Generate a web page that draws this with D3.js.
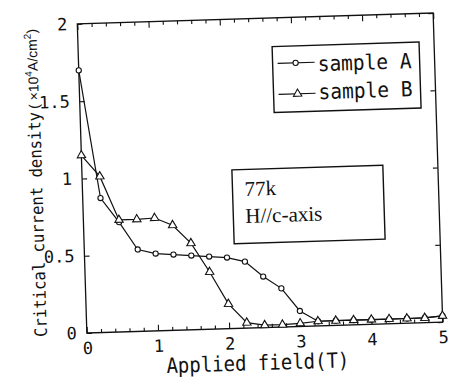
<!DOCTYPE html>
<html>
<head>
<meta charset="utf-8">
<script src="https://cdn.jsdelivr.net/npm/d3@7"></script>
<style>
  html, body { margin: 0; padding: 0; background: #fff; }
  svg { display: block; }
</style>
</head>
<body>
<svg id="chart" width="459" height="380"></svg>
<script>
// ---- data ----
const fieldT = [0, 0.25, 0.5, 0.75, 1, 1.25, 1.5, 1.75, 2, 2.25, 2.5, 2.75, 3, 3.25, 3.5, 3.75, 4, 4.25, 4.5, 4.75, 5];
const sampleA = [1.70, 0.87, 0.71, 0.53, 0.50, 0.49, 0.48, 0.47, 0.46, 0.43, 0.33, 0.25, 0.10, 0.03, 0.03, 0.03, 0.03, 0.03, 0.03, 0.03, 0.04];
const sampleB = [1.15, 1.01, 0.725, 0.725, 0.73, 0.68, 0.56, 0.37, 0.16, 0.035, 0.015, 0.015, 0.02, 0.03, 0.03, 0.03, 0.03, 0.03, 0.03, 0.03, 0.04];
const seriesNames = ["sample A", "sample B"];
const xTickValues = [0, 1, 2, 3, 4, 5];
const xTickLabels = ["0", "1", "2", "3", "4", "5"];
const xMinorTicks = [0.2, 0.4, 0.6, 0.8, 1.2, 1.4, 1.6, 1.8, 2.2, 2.4, 2.6, 2.8, 3.2, 3.4, 3.6, 3.8, 4.2, 4.4, 4.6, 4.8];
const yTickValues = [0, 0.5, 1, 1.5, 2];
const yTickLabels = ["0", "0.5", "1", "1.5", "2"];
const annotationLines = ["77k", "H//c-axis"];

// ---- layout ----
const ink = "#111";
const plot = { left: 82, right: 438, top: 18.4, bottom: 327.6 };
const svg = d3.select("#chart");
const g = svg.append("g").attr("transform", "rotate(-1.77, 260, 173)");

const x = d3.scaleLinear().domain([0, 5]).range([plot.left, plot.right]);
const y = d3.scaleLinear().domain([0, 2]).range([plot.bottom, plot.top]);

const monoFont = "'DejaVu Sans Mono', 'Liberation Mono', monospace";

// frame
g.append("rect")
  .attr("x", plot.left).attr("y", plot.top)
  .attr("width", plot.right - plot.left).attr("height", plot.bottom - plot.top)
  .attr("fill", "none").attr("stroke", ink).attr("stroke-width", 1.3);

function styleAxis(sel) {
  sel.select(".domain").remove();
  sel.selectAll(".tick line").attr("stroke", ink).attr("stroke-width", 1.1);
  sel.selectAll(".tick text").attr("fill", ink)
    .attr("font-family", monoFont).attr("font-size", 17);
}

// bottom axis (major with labels)
const xAxisG = g.append("g").attr("transform", `translate(0,${plot.bottom})`)
  .call(d3.axisBottom(x).tickValues(xTickValues)
    .tickFormat((d, i) => xTickLabels[i])
    .tickSizeInner(-6).tickSizeOuter(0).tickPadding(9));
styleAxis(xAxisG);
// bottom minor
const xMinorG = g.append("g").attr("transform", `translate(0,${plot.bottom})`)
  .call(d3.axisBottom(x).tickValues(xMinorTicks).tickFormat("").tickSizeInner(-3.5).tickSizeOuter(0));
styleAxis(xMinorG);
// top major + minor
const xTopG = g.append("g").attr("transform", `translate(0,${plot.top})`)
  .call(d3.axisTop(x).tickValues(xTickValues).tickFormat("").tickSizeInner(-6).tickSizeOuter(0));
styleAxis(xTopG);
const xTopMinorG = g.append("g").attr("transform", `translate(0,${plot.top})`)
  .call(d3.axisTop(x).tickValues(xMinorTicks).tickFormat("").tickSizeInner(-3.5).tickSizeOuter(0));
styleAxis(xTopMinorG);

// left axis
const yAxisG = g.append("g").attr("transform", `translate(${plot.left},0)`)
  .call(d3.axisLeft(y).tickValues(yTickValues)
    .tickFormat((d, i) => yTickLabels[i])
    .tickSizeInner(-5).tickSizeOuter(0).tickPadding(10));
styleAxis(yAxisG);
// right axis
const yRightG = g.append("g").attr("transform", `translate(${plot.right},0)`)
  .call(d3.axisRight(y).tickValues(yTickValues).tickFormat("").tickSizeInner(-5).tickSizeOuter(0));
styleAxis(yRightG);

// axis titles
g.append("text")
  .attr("x", 252).attr("y", 370)
  .attr("text-anchor", "middle")
  .attr("font-family", monoFont).attr("font-size", 21)
  .attr("textLength", 183).attr("lengthAdjust", "spacingAndGlyphs")
  .attr("fill", ink)
  .text("Applied field(T)");

const yTitle = g.append("g").attr("transform", "translate(42,330) rotate(-90)");
yTitle.append("text")
  .attr("x", 0).attr("y", 0)
  .attr("font-family", monoFont).attr("font-size", 17)
  .attr("textLength", 225).attr("lengthAdjust", "spacingAndGlyphs")
  .attr("fill", ink)
  .text("Critical current density");
const unit = yTitle.append("text")
  .attr("x", 228).attr("y", -1)
  .attr("font-family", "'Liberation Sans', Arial, sans-serif").attr("font-size", 14)
  .attr("fill", ink);
unit.append("tspan").text("( ×10");
unit.append("tspan").attr("font-size", 10).attr("dy", -6).text("4");
unit.append("tspan").attr("dy", 6).text("A/cm");
unit.append("tspan").attr("font-size", 10).attr("dy", -6).text("2");
unit.append("tspan").attr("dy", 6).text(")");

// ---- series ----
const line = d3.line().x((d, i) => x(fieldT[i])).y(d => y(d));
const triangle = d3.symbol().type(d3.symbolTriangle).size(30);

g.append("path").datum(sampleA).attr("d", line)
  .attr("fill", "none").attr("stroke", ink).attr("stroke-width", 1.2);
g.append("path").datum(sampleB).attr("d", line)
  .attr("fill", "none").attr("stroke", ink).attr("stroke-width", 1.2);

g.append("g").selectAll("circle").data(sampleA).join("circle")
  .attr("cx", (d, i) => x(fieldT[i])).attr("cy", d => y(d)).attr("r", 2.6)
  .attr("fill", "#fff").attr("stroke", ink).attr("stroke-width", 1.1);
g.append("g").selectAll("path").data(sampleB).join("path")
  .attr("d", triangle)
  .attr("transform", (d, i) => `translate(${x(fieldT[i])},${y(d)})`)
  .attr("fill", "#fff").attr("stroke", ink).attr("stroke-width", 1.1);

// ---- legend ----
const leg = g.append("g");
leg.append("rect").attr("x", 276).attr("y", 47).attr("width", 147).attr("height", 66)
  .attr("fill", "#fff").attr("stroke", ink).attr("stroke-width", 1.4);
const legRows = [
  { name: seriesNames[0], cy: 64, base: 73, sym: "circle" },
  { name: seriesNames[1], cy: 95, base: 101, sym: "triangle" }
];
legRows.forEach(r => {
  leg.append("line").attr("x1", 281).attr("x2", 318).attr("y1", r.cy).attr("y2", r.cy)
    .attr("stroke", ink).attr("stroke-width", 1.1);
  if (r.sym === "circle") {
    leg.append("circle").attr("cx", 299).attr("cy", r.cy).attr("r", 2.6)
      .attr("fill", "#fff").attr("stroke", ink).attr("stroke-width", 1.1);
  } else {
    leg.append("path").attr("d", triangle).attr("transform", `translate(300,${r.cy})`)
      .attr("fill", "#fff").attr("stroke", ink).attr("stroke-width", 1.1);
  }
  leg.append("text").attr("x", 321).attr("y", r.base)
    .attr("font-family", monoFont).attr("font-size", 21)
    .attr("textLength", 94).attr("lengthAdjust", "spacingAndGlyphs")
    .attr("fill", ink).text(r.name);
});

// ---- annotation box ----
const ann = g.append("g");
ann.append("rect").attr("x", 232).attr("y", 169).attr("width", 151).attr("height", 74)
  .attr("fill", "#fff").attr("stroke", ink).attr("stroke-width", 1.4);
ann.selectAll("text").data(annotationLines).join("text")
  .attr("x", 244).attr("y", (d, i) => 195.5 + i * 27)
  .attr("font-family", "'Liberation Serif', 'Times New Roman', serif").attr("font-size", 21)
  .attr("fill", ink).text(d => d);
</script>
</body>
</html>
